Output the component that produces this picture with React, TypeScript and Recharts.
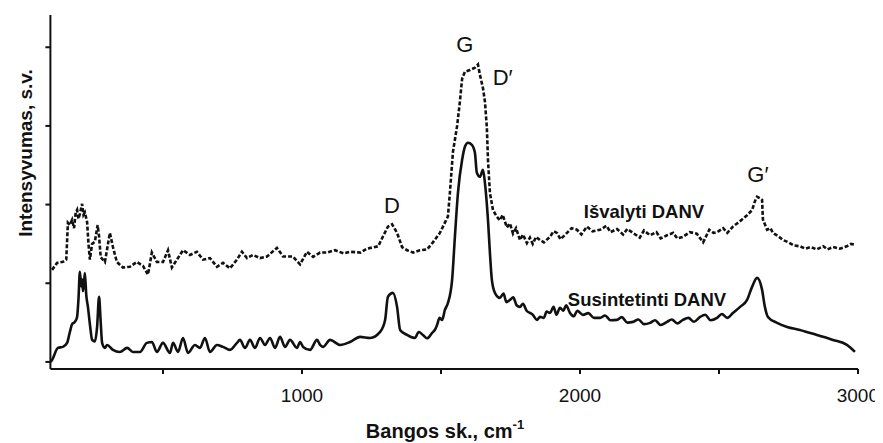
import React from 'react';
import { LineChart, Line, XAxis, YAxis, ReferenceDot } from 'recharts';

// Raman spectrum – synthesized (as-grown) nanotubes, solid line
const synthWavenumber = [
  95, 101, 122, 140, 155, 165, 173, 183, 191, 196, 201, 206, 209, 212, 216, 219, 224, 230, 238, 245,
  255, 263, 270, 276, 281, 291, 299, 320, 345, 371, 392, 417, 442, 460, 478, 500, 525, 536, 554, 572,
  590, 615, 633, 651, 669, 694, 716, 741, 766, 777, 795, 813, 831, 849, 867, 885, 903, 921, 939, 957,
  982, 993, 1004, 1029, 1054, 1065, 1076, 1101, 1137, 1173, 1209, 1245, 1281, 1299, 1309, 1327, 1342, 1353, 1378, 1390,
  1406, 1420, 1435, 1450, 1468, 1480, 1486, 1495, 1504, 1514, 1525, 1540, 1550, 1561, 1576, 1586, 1597, 1611, 1622, 1629,
  1640, 1651, 1658, 1669, 1676, 1683, 1694, 1712, 1725, 1735, 1748, 1760, 1772, 1784, 1795, 1808, 1820, 1830, 1845, 1856,
  1870, 1880, 1892, 1905, 1915, 1928, 1940, 1950, 1964, 1978, 1990, 2011, 2030, 2050, 2072, 2090, 2110, 2133, 2150, 2170,
  2191, 2210, 2230, 2252, 2270, 2290, 2313, 2330, 2350, 2370, 2390, 2410, 2432, 2450, 2470, 2493, 2510, 2530, 2550, 2576,
  2601, 2619, 2637, 2655, 2665, 2676, 2709, 2745, 2791, 2852, 2910, 2960, 2989,
];
const synthIntensity = [
  0, 25, 178, 191, 242, 380, 480, 509, 572, 800, 1145, 960, 1050, 900, 1000, 1130, 850, 700, 450, 280,
  260, 445, 827, 500, 242, 178, 216, 153, 127, 178, 127, 127, 242, 254, 127, 242, 114, 242, 127, 305,
  114, 216, 178, 305, 127, 216, 191, 153, 242, 280, 178, 280, 178, 305, 216, 305, 178, 318, 191, 280,
  178, 254, 191, 153, 280, 216, 191, 280, 216, 254, 318, 305, 382, 534, 827, 878, 700, 407, 343, 320,
  305, 380, 343, 300, 369, 420, 471, 560, 534, 661, 750, 1043, 1590, 2150, 2569, 2735, 2786, 2760, 2658, 2404,
  2353, 2442, 2277, 1806, 1387, 1043, 878, 814, 870, 760, 789, 820, 720, 700, 740, 650, 623, 600, 534, 572,
  560, 640, 623, 700, 600, 687, 650, 720, 623, 580, 650, 598, 620, 560, 560, 590, 530, 534, 570, 500,
  509, 540, 480, 496, 530, 470, 509, 540, 490, 534, 560, 510, 572, 600, 530, 560, 610, 560, 623, 700,
  789, 954, 1069, 916, 700, 572, 496, 445, 407, 343, 280, 216, 127,
];

// Raman spectrum – purified nanotubes, dashed line
const purifiedWavenumber = [
  101, 119, 140, 152, 158, 165, 173, 180, 186, 191, 196, 201, 209, 214, 219, 227, 232, 237, 245, 255,
  265, 270, 276, 291, 309, 320, 334, 356, 381, 406, 428, 446, 460, 478, 500, 518, 532, 550, 572, 597,
  622, 644, 669, 694, 716, 741, 766, 784, 802, 824, 849, 874, 910, 932, 967, 993, 1018, 1040, 1065, 1090,
  1119, 1150, 1173, 1210, 1234, 1274, 1292, 1309, 1324, 1342, 1360, 1378, 1400, 1424, 1450, 1471, 1496, 1514, 1525, 1532,
  1543, 1558, 1568, 1576, 1586, 1604, 1622, 1633, 1640, 1651, 1658, 1665, 1669, 1676, 1687, 1700, 1712, 1722, 1737, 1748,
  1759, 1770, 1784, 1795, 1809, 1820, 1830, 1842, 1856, 1870, 1892, 1905, 1917, 1930, 1953, 1970, 1989, 2005, 2025, 2045,
  2072, 2095, 2110, 2133, 2155, 2170, 2191, 2215, 2230, 2252, 2275, 2290, 2313, 2335, 2350, 2370, 2395, 2420, 2443, 2465,
  2480, 2493, 2515, 2530, 2550, 2565, 2583, 2600, 2619, 2630, 2637, 2648, 2655, 2658, 2673, 2685, 2694, 2712, 2730, 2750,
  2770, 2791, 2810, 2830, 2852, 2875, 2890, 2910, 2935, 2960, 2975, 2989,
];
const purifiedIntensity = [
  1170, 1259, 1272, 1300, 1768, 1740, 1806, 1700, 1900, 1933, 1820, 1880, 2010, 1870, 1900, 1780, 1500, 1300, 1500, 1530,
  1740, 1600, 1330, 1270, 1640, 1460, 1270, 1200, 1210, 1270, 1220, 1110, 1390, 1270, 1270, 1420, 1200, 1300, 1420, 1360,
  1400, 1300, 1320, 1210, 1260, 1190, 1300, 1400, 1320, 1360, 1320, 1340, 1450, 1340, 1340, 1240, 1400, 1336, 1390, 1390,
  1420, 1380, 1400, 1390, 1440, 1470, 1600, 1720, 1750, 1640, 1460, 1420, 1390, 1420, 1430, 1520, 1640, 1770, 1850, 2150,
  2670, 3000, 3310, 3600, 3690, 3710, 3740, 3780, 3650, 3480, 3310, 2980, 2570, 2150, 1930, 1850, 1800, 1870, 1710, 1760,
  1630, 1700, 1550, 1620, 1510, 1580, 1500, 1590, 1550, 1520, 1590, 1660, 1640, 1560, 1640, 1700, 1680, 1620, 1720, 1660,
  1680, 1730, 1650, 1690, 1620, 1690, 1640, 1580, 1670, 1610, 1650, 1570, 1610, 1640, 1570, 1590, 1650, 1630, 1520, 1680,
  1640, 1650, 1700, 1640, 1720, 1760, 1810, 1860, 1930, 2050, 2100, 2080, 2060, 1810, 1680, 1700, 1640, 1600, 1550, 1520,
  1480, 1470, 1440, 1460, 1430, 1470, 1430, 1460, 1440, 1470, 1500, 1490,
];

const xTicks = [500, 1000, 1500, 2000, 2500, 3000];
const yTicks = [0, 1000, 2000, 3000, 4000];

const peakLabels = [
  { text: 'G', x: 1586, y: 3943 },
  { text: 'D\u2032', x: 1722, y: 3523 },
  { text: 'D', x: 1324, y: 1895 },
  { text: 'G\u2032', x: 2640, y: 2290 },
];
const seriesLabels = [
  { text: 'Išvalyti DANV', x: 2230, y: 1832 },
  { text: 'Susintetinti DANV', x: 2241, y: 712 },
];

const synthData = synthWavenumber.map((x, i) => ({ x, y: synthIntensity[i] }));
const purifiedData = purifiedWavenumber.map((x, i) => ({ x, y: purifiedIntensity[i] }));

const FONT = '"Liberation Sans", Arial, sans-serif';
const INK = '#111';

const XTick = (props: any) => {
  const { x, y, payload } = props;
  const v = payload.value as number;
  if (v % 1000 !== 0) return <g />;
  const isLast = v === 3000;
  return (
    <text
      x={isLast ? x + 21 : x}
      y={y + 15}
      textAnchor={isLast ? 'end' : 'middle'}
      fontSize={19}
      fontFamily={FONT}
      fill={INK}
    >
      {String(v)}
    </text>
  );
};

export default function App() {
  return (
    <div style={{ position: 'relative', width: 883, height: 443, margin: '-8px 0 0 -8px', background: '#fff' }}>
      <LineChart width={883} height={443} margin={{ top: 15, right: 25, bottom: 0, left: 0 }}>
        <XAxis
          type="number"
          dataKey="x"
          domain={[95, 3000]}
          ticks={xTicks}
          interval={0}
          allowDataOverflow
          height={74}
          tickSize={5}
          tickMargin={13}
          stroke={INK}
          strokeWidth={2}
          tick={<XTick />}
        />
        <YAxis
          type="number"
          domain={[-90, 4410]}
          ticks={yTicks}
          allowDataOverflow
          width={50.4}
          tickSize={5}
          stroke={INK}
          strokeWidth={2}
          tickFormatter={() => ''}
        />
        <Line
          data={purifiedData}
          dataKey="y"
          type="linear"
          stroke={INK}
          strokeWidth={2.6}
          strokeDasharray="4 2"
          dot={false}
          isAnimationActive={false}
        />
        <Line
          data={synthData}
          dataKey="y"
          type="monotone"
          stroke={INK}
          strokeWidth={2.6}
          dot={false}
          isAnimationActive={false}
        />
        {peakLabels.map((p) => (
          <ReferenceDot
            key={p.text}
            x={p.x}
            y={p.y}
            r={0}
            ifOverflow="visible"
            shape={(s: any) => (
              <text x={s.cx} y={s.cy} textAnchor="middle" fontSize={22} fontFamily={FONT} fill={INK}>
                {p.text}
              </text>
            )}
          />
        ))}
        {seriesLabels.map((p) => (
          <ReferenceDot
            key={p.text}
            x={p.x}
            y={p.y}
            r={0}
            ifOverflow="visible"
            shape={(s: any) => (
              <text x={s.cx} y={s.cy} textAnchor="middle" fontSize={18.5} fontWeight="bold" fontFamily={FONT} fill={INK}>
                {p.text}
              </text>
            )}
          />
        ))}
      </LineChart>
      <svg
        width={883}
        height={443}
        style={{ position: 'absolute', left: 0, top: 0, pointerEvents: 'none' }}
      >
        <text
          x={32}
          y={153}
          transform="rotate(-90 32 153)"
          textAnchor="middle"
          fontSize={19}
          fontWeight="bold"
          fontFamily={FONT}
          fill={INK}
        >
          Intensyvumas, s.v.
        </text>
        <text x={445} y={438} textAnchor="middle" fontSize={20} fontWeight="bold" fontFamily={FONT} fill={INK}>
          Bangos sk., cm
          <tspan fontSize={13} dy={-9}>-1</tspan>
        </text>
      </svg>
    </div>
  );
}
